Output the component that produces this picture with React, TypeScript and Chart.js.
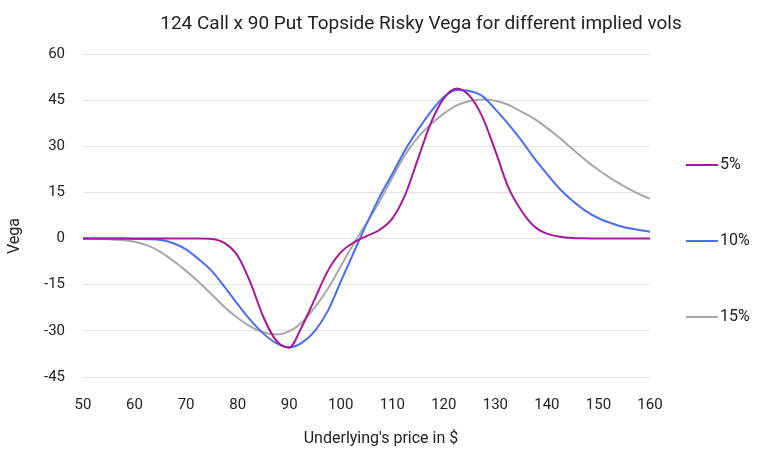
import { useEffect, useRef } from 'react'
import { Chart, registerables } from 'chart.js'

Chart.register(...registerables)

const prices = [
  50, 52.5, 55, 57.5, 60, 62.5, 65, 67.5, 70, 72.5, 75, 77.5, 80, 82.5, 85, 87.5, 90, 92.5, 95, 97.5,
  100, 102.5, 105, 107.5, 110, 112.5, 115, 117.5, 120, 122.5, 125, 127.5, 130, 132.5, 135, 137.5, 140,
  142.5, 145, 147.5, 150, 152.5, 155, 157.5, 160,
]

const vol5 = [
  0, 0, 0, 0, 0, 0, 0, 0, 0, 0, -0.1, -1.5, -5.6, -14.4, -25.5, -33.2, -35.4, -28.5, -19.5, -10.5,
  -4.5, -1.3, 0.8, 2.8, 6.5, 14.2, 26, 37.6, 45.6, 48.8, 46.4, 39.5, 28.5, 16.7, 9.2, 4, 1.6,
  0.6, 0.2, 0.1, 0, 0, 0, 0, 0,
]

const vol10 = [
  0, 0, 0, 0, -0.1, -0.2, -0.5, -1.5, -3.5, -6.8, -10.6, -15.8, -21.3, -26.5, -30.9, -34, -35.4, -33.8, -30, -23.5,
  -14, -4.6, 4.7, 13.4, 21, 28.8, 35.4, 41.3, 46, 48.3, 48, 46.3, 42, 37.3, 32, 26.2, 21,
  16.1, 12.2, 9, 6.6, 5, 3.7, 2.9, 2.2,
]

const vol15 = [
  0, -0.1, -0.2, -0.5, -1, -2.2, -4.3, -7.2, -10.5, -14.2, -18.2, -22.3, -25.8, -28.6, -30.5, -31.2, -30.2, -27.2, -22.3, -16.3,
  -9, -1.7, 5, 12, 19.8, 27.3, 33, 37.2, 40.6, 43.3, 44.7, 45.2, 44.8, 43.5, 41.3, 39, 36,
  32.7, 29, 25.5, 22.3, 19.5, 17, 14.8, 12.9,
]

const seriesLabels = ['5%', '10%', '15%']
const seriesColors = ['#a8179b', '#4a6ef2', '#a8a8a8']
const yTicks = [-45, -30, -15, 0, 15, 30, 45, 60]

const FONT = 'Roboto, "Noto Sans", sans-serif'

// title, axis titles and the spaced-out legend on the right
const labelsPlugin = {
  id: 'labels',
  afterDraw(chart: any) {
    const { ctx } = chart
    ctx.save()
    ctx.fillStyle = '#222'
    ctx.font = `19px ${FONT}`
    ctx.textAlign = 'center'
    ctx.textBaseline = 'middle'
    ctx.fillText('124 Call x 90 Put Topside Risky Vega for different implied vols', 421, 24)

    ctx.font = `16px ${FONT}`
    ctx.fillText("Underlying's price in $", 381, 439)

    ctx.save()
    ctx.translate(15, 236)
    ctx.rotate(-Math.PI / 2)
    ctx.fillText('Vega', 0, 0)
    ctx.restore()

    const rows = [165, 241, 317]
    ctx.textAlign = 'left'
    chart.data.datasets.forEach((ds: any, i: number) => {
      const y = rows[i]
      ctx.strokeStyle = ds.borderColor
      ctx.lineWidth = 2
      ctx.beginPath()
      ctx.moveTo(686, y)
      ctx.lineTo(718, y)
      ctx.stroke()
      ctx.fillText(ds.label, 720, y)
    })
    ctx.restore()
  },
}

export default function App() {
  const canvasRef = useRef<HTMLCanvasElement>(null)
  const chartRef = useRef<Chart | null>(null)

  useEffect(() => {
    if (!canvasRef.current) return
    if (chartRef.current) chartRef.current.destroy()

    const series = [vol5, vol10, vol15]

    chartRef.current = new Chart(canvasRef.current, {
      type: 'line',
      data: {
        datasets: series.map((s, i) => ({
          label: seriesLabels[i],
          data: prices.map((x, j) => ({ x, y: s[j] })),
          borderColor: seriesColors[i],
          borderWidth: 2,
          pointRadius: 0,
          fill: false,
          cubicInterpolationMode: 'monotone' as const,
        })),
      },
      options: {
        animation: false,
        responsive: true,
        maintainAspectRatio: false,
        layout: { padding: { top: 54, right: 118, left: 0, bottom: 0 } },
        plugins: {
          legend: { display: false },
          title: { display: false },
          tooltip: { enabled: false },
        },
        scales: {
          x: {
            type: 'linear',
            min: 50,
            max: 160,
            ticks: {
              stepSize: 10,
              padding: 11,
              color: '#222',
              font: { size: 15, family: FONT },
            },
            grid: { display: false },
            border: { display: false },
            afterFit: (scale: any) => { scale.height = 76 },
          },
          y: {
            min: -45,
            max: 60,
            afterBuildTicks: (scale: any) => { scale.ticks = yTicks.map(v => ({ value: v })) },
            ticks: {
              padding: 18,
              color: '#222',
              font: { size: 15, family: FONT },
            },
            grid: { color: '#e3e3e3', drawTicks: false },
            border: { display: false },
            afterFit: (scale: any) => { scale.width = 83 },
          },
        },
      },
      plugins: [labelsPlugin],
    })
    return () => { chartRef.current?.destroy() }
  }, [])

  return (
    <div style={{ position: 'absolute', left: 0, top: 0, width: 768, height: 453, background: '#fff' }}>
      <canvas ref={canvasRef} />
    </div>
  )
}
